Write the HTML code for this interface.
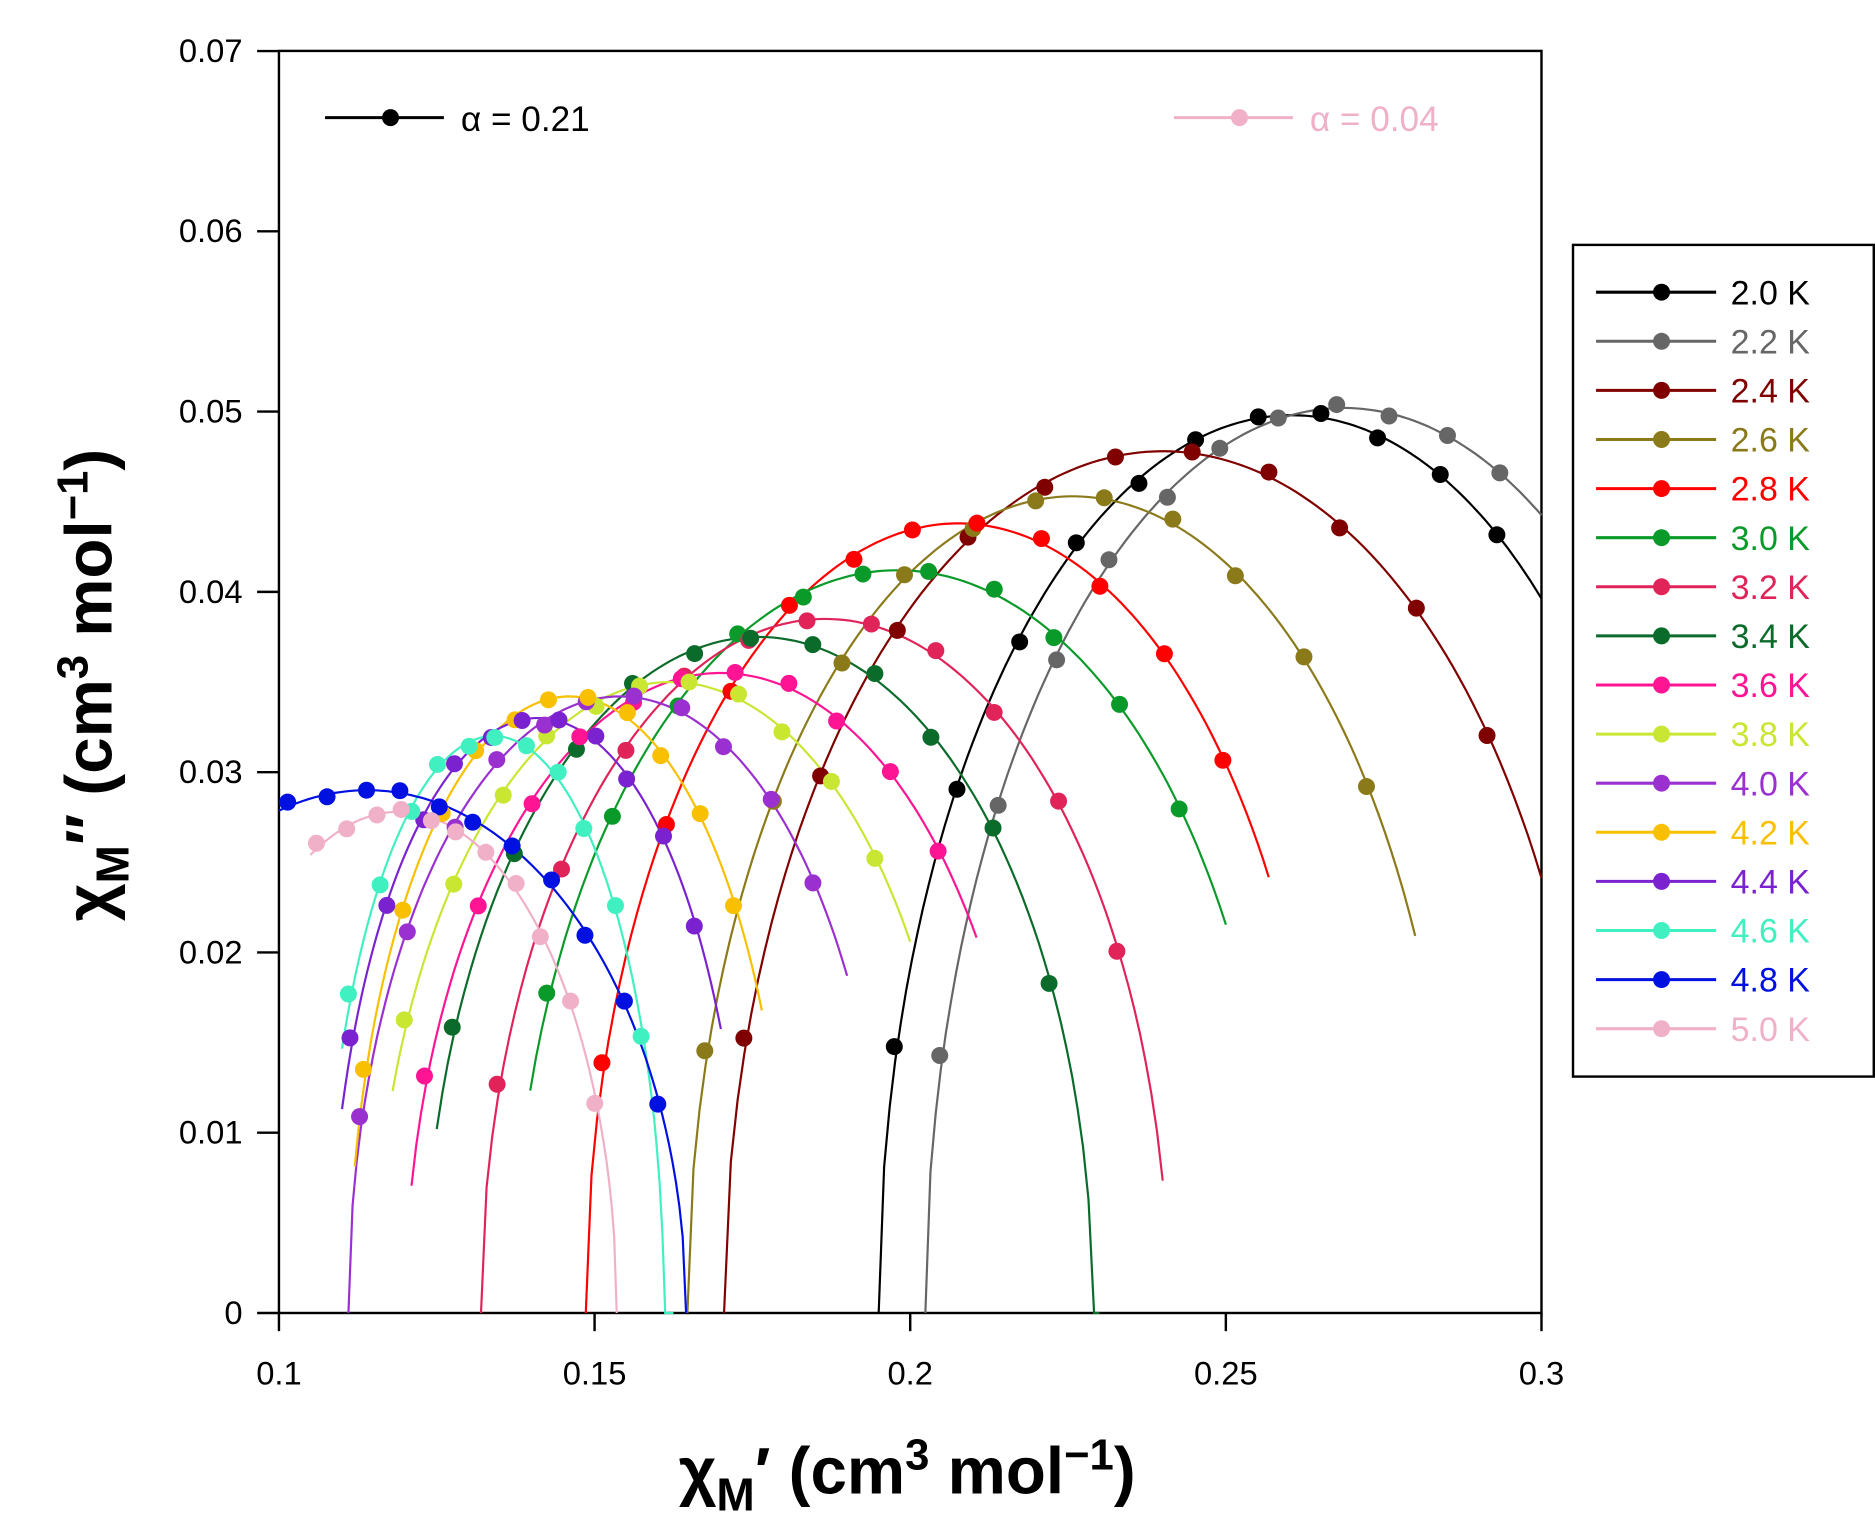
<!DOCTYPE html>
<html><head><meta charset="utf-8"><style>
html,body{margin:0;padding:0;background:#fff;}
svg{display:block;}
text{font-family:"Liberation Sans",sans-serif;}
</style></head><body>
<svg id="s" width="1875" height="1530" viewBox="0 0 1546 1262" preserveAspectRatio="none" xmlns="http://www.w3.org/2000/svg">
<rect x="0" y="0" width="1546" height="1262" fill="#fff"/>
<rect x="230" y="42" width="1041" height="1041" fill="none" stroke="#000" stroke-width="2"/>
<g id="ticks" stroke="#000" stroke-width="2"></g>
<g id="labels" font-size="27" fill="#000"></g>
<g id="curves" fill="none" stroke-width="1.8"></g>
<g id="dots" stroke="none"></g>
<text x="748" y="1232" font-size="54" font-weight="bold" text-anchor="middle">χ<tspan font-size="38" dy="14">M</tspan><tspan dy="-14">′ (cm</tspan><tspan font-size="36" dy="-20">3</tspan><tspan dy="20"> mol</tspan><tspan font-size="36" dy="-20">−1</tspan><tspan dy="20">)</tspan></text>
<text transform="translate(92,565) rotate(-90)" font-size="54" font-weight="bold" text-anchor="middle">χ<tspan font-size="38" dy="14">M</tspan><tspan dy="-14">″ (cm</tspan><tspan font-size="36" dy="-20">3</tspan><tspan dy="20"> mol</tspan><tspan font-size="36" dy="-20">−1</tspan><tspan dy="20">)</tspan></text>
<line x1="268" y1="97" x2="366" y2="97" stroke="#000" stroke-width="2.5"/><circle cx="322" cy="97" r="7" fill="#000"/>
<text x="380" y="108" font-size="29">α = 0.21</text>
<line x1="968" y1="97" x2="1066" y2="97" stroke="#f0b0c8" stroke-width="2.5"/><circle cx="1022" cy="97" r="7" fill="#f0b0c8"/>
<text x="1080" y="108" font-size="29" fill="#f0b0c8">α = 0.04</text>
<rect x="1297" y="202" width="248" height="686" fill="#fff" stroke="#000" stroke-width="2"/>
<g id="leg"></g>
</svg>
<script>
const NS="http://www.w3.org/2000/svg";
function el(t,a,p,txt){const e=document.createElementNS(NS,t);for(const k in a)e.setAttribute(k,a[k]);if(txt!==undefined)e.textContent=txt;document.getElementById(p).appendChild(e);return e;}
const X=x=>230+(x-0.1)*5205, Y=y=>1083-y*14870;
for(let i=0;i<=7;i++){const y=Y(i*0.01);el('line',{x1:212,y1:y,x2:230,y2:y},'ticks');el('text',{x:200,y:y+9,'text-anchor':'end'},'labels',i==0?'0':(i*0.01).toFixed(2));}
const xl=['0.1','0.15','0.2','0.25','0.3'];
for(let i=0;i<5;i++){const x=X(0.1+i*0.05);el('line',{x1:x,y1:1083,x2:x,y2:1098},'ticks');el('text',{x:x,y:1142,'text-anchor':'middle'},'labels',xl[i]);}
const S=[
['#000000',0.195,0.2604,0.0498,0.195,0.3,'2.0 K'],
['#666666',0.2024,0.2687,0.0502,0.2024,0.3,'2.2 K'],
['#800000',0.1705,0.240,0.0478,0.1705,0.3,'2.4 K'],
['#8b7a1a',0.1647,0.2258,0.0453,0.1647,0.280,'2.6 K'],
['#ff0000',0.1486,0.2076,0.0438,0.1486,0.2568,'2.8 K'],
['#0a9a2a',0.137,0.198,0.0412,0.1398,0.250,'3.0 K'],
['#e0245a',0.132,0.1865,0.0385,0.132,0.240,'3.2 K'],
['#0b6b2a',0.123,0.176,0.0375,0.125,0.230,'3.4 K'],
['#ff1493',0.12,0.170,0.0355,0.121,0.2105,'3.6 K'],
['#c8e632',0.115,0.162,0.035,0.118,0.200,'3.8 K'],
['#9b30d0',0.111,0.154,0.0342,0.111,0.190,'4.0 K'],
['#f8c000',0.111,0.146,0.0342,0.112,0.1765,'4.2 K'],
['#7b22d0',0.108,0.141,0.033,0.11,0.170,'4.4 K'],
['#40f0c0',0.107,0.134,0.032,0.11,0.1625,'4.6 K'],
['#0010e0',0.0635,0.114,0.029,0.1,0.1645,'4.8 K'],
['#f0b0c8',0.0845,0.119,0.0278,0.105,0.1535,'5.0 K']];
S.forEach((s,i)=>{
 const [c,a,p,h,xs,xe,lab]=s, w=p-a;
 const f=x=>{const u=(x-p)/w;return u*u>=1?0:h*Math.sqrt(1-u*u);};
 let d='';const N=120;
 for(let k=0;k<=N;k++){const x=xs+(xe-xs)*k/N;d+=(k?'L':'M')+X(x).toFixed(1)+' '+Y(f(x)).toFixed(1);}
 el('path',{d:d,stroke:c},'curves');
 const nd=11;
 for(let k=0;k<nd;k++){const t=(k+0.3)/nd;const x=xs+(Math.min(xe,2*p-a)-xs)*t;const y=f(x);
  if(y<0.0015)continue;
  el('circle',{cx:X(x)+((k*7)%5-2),cy:Y(y)+((k*5)%7-3),r:7,fill:c},'dots');}
 const ly=241+40.5*i;
 el('line',{x1:1316,y1:ly,x2:1415,y2:ly,stroke:c,'stroke-width':2.5},'leg');
 el('circle',{cx:1370,cy:ly,r:7,fill:c},'leg');
 el('text',{x:1427,y:ly+10,'font-size':28,fill:c},'leg',lab);
});
</script>
</body></html>
